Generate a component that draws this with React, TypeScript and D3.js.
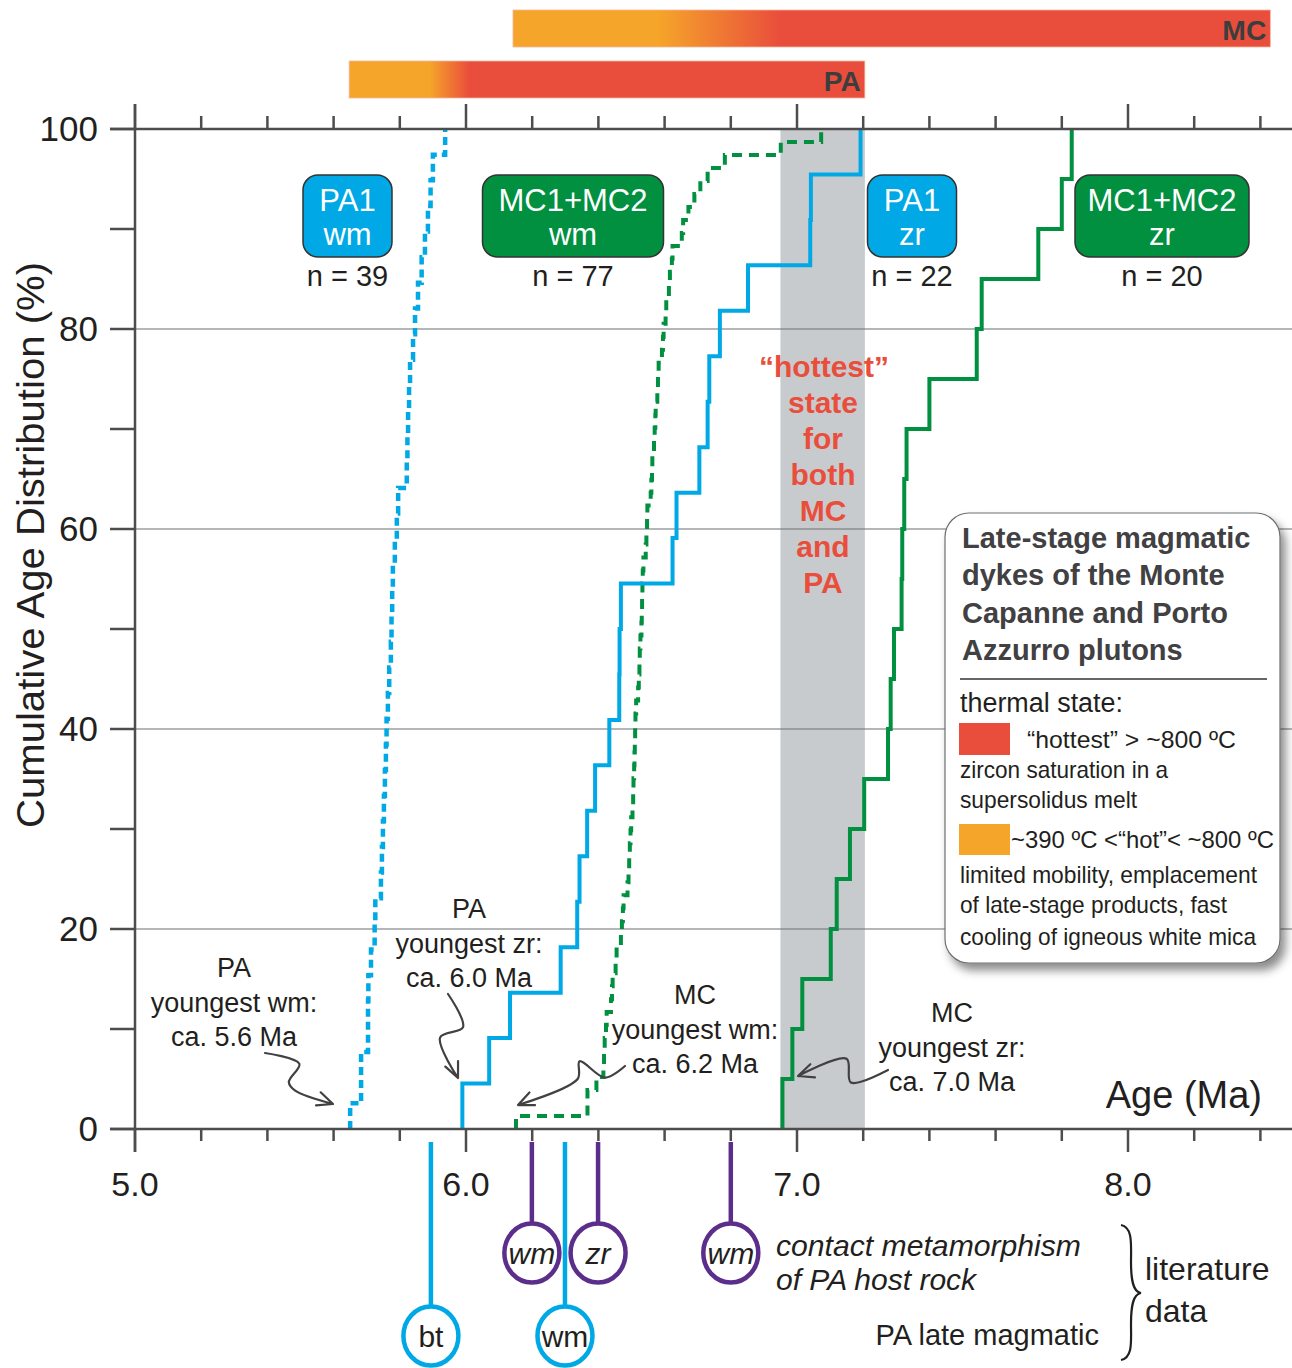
import React from 'react';
import * as d3 from 'd3';

const BLUE = '#00A9E6';
const GREEN = '#00903F';
const PURPLE = '#5C2E8C';
const RED = '#E94E3C';
const ORANGE = '#F5A52A';
const INK = '#231F20';
const AXIS = '#4D4D4F';
const FONT = '"Liberation Sans", Arial, Helvetica, sans-serif';

// PA1 white mica ages (Ma), sorted, n = 39
const paWmAges = [5.650, 5.683, 5.683, 5.704, 5.704, 5.705, 5.713, 5.724, 5.726, 5.743, 5.746, 5.749, 5.752,
  5.755, 5.758, 5.760, 5.764, 5.768, 5.773, 5.775, 5.777, 5.779, 5.785, 5.791, 5.795, 5.821, 5.823, 5.825,
  5.828, 5.831, 5.840, 5.846, 5.855, 5.866, 5.876, 5.885, 5.893, 5.900, 5.937];

// MC1+MC2 white mica ages (Ma), sorted, n = 77
const mcWmAges = [6.151, 6.367, 6.367, 6.394, 6.415, 6.417, 6.419, 6.423, 6.425, 6.438, 6.441, 6.443, 6.452,
  6.455, 6.468, 6.471, 6.474, 6.476, 6.488, 6.491, 6.493, 6.495, 6.497, 6.499, 6.503, 6.505, 6.506, 6.508,
  6.509, 6.510, 6.511, 6.512, 6.514, 6.520, 6.522, 6.524, 6.525, 6.527, 6.530, 6.531, 6.532, 6.533, 6.534,
  6.536, 6.543, 6.545, 6.547, 6.548, 6.558, 6.560, 6.562, 6.563, 6.568, 6.570, 6.572, 6.573, 6.578, 6.580,
  6.582, 6.592, 6.595, 6.597, 6.603, 6.605, 6.613, 6.616, 6.622, 6.624, 6.652, 6.656, 6.672, 6.690, 6.708,
  6.730, 6.782, 6.951, 7.073];

// PA1 zircon ages (Ma), sorted, n = 22
const paZrAges = [5.989, 6.070, 6.133, 6.286, 6.336, 6.343, 6.366, 6.390, 6.433, 6.463, 6.464, 6.468, 6.624,
  6.636, 6.705, 6.730, 6.735, 6.767, 6.852, 7.040, 7.042, 7.192];

// MC1+MC2 zircon ages (Ma), sorted, n = 20
const mcZrAges = [6.956, 6.986, 7.016, 7.102, 7.120, 7.160, 7.203, 7.275, 7.283, 7.293, 7.316, 7.318, 7.324,
  7.331, 7.400, 7.543, 7.558, 7.729, 7.800, 7.830];

// thermal state bars above the plot (Ma)
const barNames = ['MC', 'PA'];
const barStart = [6.142, 5.647];
const barFadeStart = [6.58, 5.89];
const barHotStart = [6.95, 6.01];
const barEnd = [8.43, 7.205];

// "hottest" window shared by MC and PA (Ma)
const hottest = [6.95, 7.205];

// literature ages below the axis (Ma)
const litLabels = ['wm', 'zr', 'wm', 'bt', 'wm'];
const litAges = [6.199, 6.399, 6.8, 5.894, 6.299];
const litKind = ['contact', 'contact', 'contact', 'magmatic', 'magmatic'];

const xTicks = d3.range(0, 18).map(i => 5 + i * 0.2);
const xLabels = [5, 6, 7, 8];
const yTicks = d3.range(0, 110, 10);
const yLabels = [0, 20, 40, 60, 80, 100];

const x = d3.scaleLinear().domain([5, 8]).range([135, 1128]);
const y = d3.scaleLinear().domain([0, 100]).range([1129, 129]);
const RIGHT = 1292;

type Pt = [number, number];
const ecdf = (ages: number[]): Pt[] => {
  const n = ages.length;
  const pts: Pt[] = [[ages[0], 0]];
  ages.forEach((a, i) => pts.push([a, ((i + 1) / n) * 100]));
  return pts;
};
const stepLine = d3.line<Pt>().x(d => x(d[0])).y(d => y(d[1])).curve(d3.curveStepAfter);

const series = [
  { ages: paWmAges, color: BLUE, dash: '8 5', w: 4.5 },
  { ages: mcWmAges, color: GREEN, dash: '10 7', w: 4 },
  { ages: paZrAges, color: BLUE, dash: null, w: 4 },
  { ages: mcZrAges, color: GREEN, dash: null, w: 4 },
];

// label boxes: centre x, width, colour
const boxes = [
  { l1: 'PA1', l2: 'wm', n: paWmAges.length, cx: 347.5, w: 89, color: BLUE },
  { l1: 'MC1+MC2', l2: 'wm', n: mcWmAges.length, cx: 573, w: 181, color: GREEN },
  { l1: 'PA1', l2: 'zr', n: paZrAges.length, cx: 912, w: 89, color: BLUE },
  { l1: 'MC1+MC2', l2: 'zr', n: mcZrAges.length, cx: 1162, w: 174, color: GREEN },
];

const hotWords = ['\u201chottest\u201d', 'state', 'for', 'both', 'MC', 'and', 'PA'];

// squiggly annotation arrow: waypoints given as [fraction along, px to the side]
const smooth = d3.line<Pt>().curve(d3.curveCatmullRom.alpha(0.5));
function squiggle(s: Pt, e: Pt, way: Pt[]) {
  const dx = e[0] - s[0], dy = e[1] - s[1];
  const L = Math.hypot(dx, dy);
  const ux = dx / L, uy = dy / L;
  const nx = -uy, ny = ux;
  const pts: Pt[] = [s, ...way.map(([f, p]) => [s[0] + dx * f + nx * p, s[1] + dy * f + ny * p] as Pt), e];
  const last = pts[pts.length - 2];
  const ang = Math.atan2(last[1] - e[1], last[0] - e[0]);
  const hl = 17;
  const h1: Pt = [e[0] + hl * Math.cos(ang + 0.42), e[1] + hl * Math.sin(ang + 0.42)];
  const h2: Pt = [e[0] + hl * Math.cos(ang - 0.42), e[1] + hl * Math.sin(ang - 0.42)];
  return `${smooth(pts)}M${h1}L${e}L${h2}`;
}

const notes = [
  { lines: ['PA', 'youngest wm:', 'ca. 5.6 Ma'], cx: 234, y0: 977, from: [265, 1053] as Pt, to: [333, 1104] as Pt,
    way: [[0.4, -12], [0.43, 9], [0.55, 12]] as Pt[] },
  { lines: ['PA', 'youngest zr:', 'ca. 6.0 Ma'], cx: 469, y0: 918, from: [448, 994] as Pt, to: [458, 1078] as Pt,
    way: [[0.41, -11], [0.5, 13]] as Pt[] },
  { lines: ['MC', 'youngest wm:', 'ca. 6.2 Ma'], cx: 695, y0: 1004, from: [625, 1066] as Pt, to: [518, 1105] as Pt,
    way: [[0.2, -4], [0.36, 20], [0.43, 4]] as Pt[] },
  { lines: ['MC', 'youngest zr:', 'ca. 7.0 Ma'], cx: 952, y0: 1022, from: [888, 1070] as Pt, to: [798, 1076] as Pt,
    way: [[0.42, -10], [0.45, 14]] as Pt[] },
];

const legendLines = [
  { t: 'thermal state:', x: 960, y: 712, fs: 27, tl: 163 },
  { t: '\u201chottest\u201d > ~800 \u00baC', x: 1027, y: 748, fs: 24, tl: 209 },
  { t: 'zircon saturation in a', x: 960, y: 778, fs: 24, tl: 208 },
  { t: 'supersolidus melt', x: 960, y: 808, fs: 24, tl: 177 },
  { t: '~390 \u00baC <\u201chot\u201d< ~800 \u00baC', x: 1011, y: 848, fs: 24, tl: 263 },
  { t: 'limited mobility, emplacement', x: 960, y: 883, fs: 24, tl: 297 },
  { t: 'of late-stage products, fast', x: 960, y: 913, fs: 24, tl: 267 },
  { t: 'cooling of igneous white mica', x: 960, y: 945, fs: 24, tl: 296 },
];
const legendTitle = ['Late-stage magmatic', 'dykes of the Monte', 'Capanne and Porto', 'Azzurro plutons'];

export default function App() {
  return (
    <svg width={1292} height={1368} style={{ position: 'absolute', left: 0, top: 0, background: '#fff' }}
      fontFamily={FONT}>
      <defs>
        {barNames.map((name, i) => (
          <linearGradient key={name} id={`grad-${name}`} gradientUnits="userSpaceOnUse"
            x1={x(barStart[i])} x2={x(barEnd[i])} y1={0} y2={0}>
            <stop offset={0} stopColor={ORANGE} />
            <stop offset={(x(barFadeStart[i]) - x(barStart[i])) / (x(barEnd[i]) - x(barStart[i]))} stopColor={ORANGE} />
            <stop offset={(x(barHotStart[i]) - x(barStart[i])) / (x(barEnd[i]) - x(barStart[i]))} stopColor={RED} />
            <stop offset={1} stopColor={RED} />
          </linearGradient>
        ))}
        <filter id="shadow" x="-10%" y="-10%" width="130%" height="130%">
          <feDropShadow dx={5} dy={7} stdDeviation={5} floodColor="#000" floodOpacity={0.45} />
        </filter>
      </defs>

      {/* thermal bars */}
      {barNames.map((name, i) => {
        const top = i === 0 ? 10 : 61;
        return (
          <g key={name}>
            <rect x={x(barStart[i])} y={top} width={x(barEnd[i]) - x(barStart[i])} height={37}
              fill={`url(#grad-${name})`} stroke="#f3b7a0" strokeWidth={0.8} />
            <text x={x(barEnd[i]) - 4} y={top + 30} textAnchor="end" fontSize={28} fontWeight="bold"
              fill="#3d3d3d" textLength={i === 0 ? 44 : 37} lengthAdjust="spacingAndGlyphs">{name}</text>
          </g>
        );
      })}

      {/* hottest band */}
      <rect x={x(hottest[0])} y={y(100)} width={x(hottest[1]) - x(hottest[0])} height={y(0) - y(100)} fill="#C8CBCD" />

      {/* gridlines */}
      {[20, 40, 60, 80].map(v => (
        <line key={v} x1={x(5)} x2={RIGHT} y1={y(v)} y2={y(v)} stroke="#6D6E71" strokeWidth={1.1} />
      ))}

      {/* hottest text */}
      {hotWords.map((w, i) => (
        <text key={w + i} x={i === 0 ? 824 : 823} y={377 + i * 36} textAnchor="middle" fontSize={30}
          fontWeight="bold" fill={RED}>{w}</text>
      ))}

      {/* cumulative curves */}
      {series.map((s, i) => (
        <path key={i} d={stepLine(ecdf(s.ages)) || ''} fill="none" stroke={s.color} strokeWidth={s.w}
          strokeDasharray={s.dash || undefined} />
      ))}

      {/* label boxes */}
      {boxes.map((b, i) => (
        <g key={i}>
          <rect x={b.cx - b.w / 2} y={175} width={b.w} height={82} rx={15} fill={b.color} stroke="#333" strokeWidth={1.5} />
          <text x={b.cx} y={211} textAnchor="middle" fontSize={31} fill="#fff">{b.l1}</text>
          <text x={b.cx} y={245} textAnchor="middle" fontSize={31} fill="#fff">{b.l2}</text>
          <text x={b.cx} y={286} textAnchor="middle" fontSize={29} fill={INK}>{`n = ${b.n}`}</text>
        </g>
      ))}

      {/* annotations */}
      {notes.map((n, i) => (
        <g key={i}>
          {n.lines.map((l, j) => (
            <text key={j} x={n.cx} y={n.y0 + j * 34.5} textAnchor="middle" fontSize={27} fill={INK}>{l}</text>
          ))}
          <path d={squiggle(n.from, n.to, n.way)} fill="none" stroke="#414042" strokeWidth={2.2}
            strokeLinejoin="round" strokeLinecap="round" />
        </g>
      ))}

      {/* legend */}
      <g>
        <rect x={945} y={513} width={335} height={450} rx={24} fill="#fff" stroke="#6d6e71" strokeWidth={1.2}
          filter="url(#shadow)" />
        {legendTitle.map((t, i) => (
          <text key={t} x={962} y={548 + i * 37.3} fontSize={29} fontWeight="bold" fill="#414042">{t}</text>
        ))}
        <line x1={960} x2={1267} y1={679} y2={679} stroke="#333" strokeWidth={1.5} />
        <rect x={959} y={723} width={51} height={32} fill={RED} />
        <rect x={959} y={824} width={51} height={31} fill={ORANGE} />
        {legendLines.map(l => (
          <text key={l.t} x={l.x} y={l.y} fontSize={l.fs} fill={INK} textLength={l.tl}
            lengthAdjust="spacingAndGlyphs">{l.t}</text>
        ))}
      </g>

      {/* axes */}
      <g stroke={AXIS} strokeWidth={2.5}>
        <line x1={x(5)} x2={x(5)} y1={104} y2={1152} />
        <line x1={110} x2={RIGHT} y1={y(0)} y2={y(0)} />
        <line x1={110} x2={RIGHT} y1={y(100)} y2={y(100)} />
        {xTicks.map(t => {
          const major = Math.abs(t - Math.round(t)) < 1e-6;
          return (
            <g key={t}>
              <line x1={x(t)} x2={x(t)} y1={y(100)} y2={major ? 104 : 116} />
              <line x1={x(t)} x2={x(t)} y1={y(0)} y2={major ? 1152 : 1141} />
            </g>
          );
        })}
        {yTicks.map(t => (
          <line key={t} x1={110} x2={x(5)} y1={y(t)} y2={y(t)} />
        ))}
      </g>
      {yLabels.map(t => (
        <text key={t} x={98} y={y(t) + 12} textAnchor="end" fontSize={35} fill={INK}>{t}</text>
      ))}
      {xLabels.map(t => (
        <text key={t} x={x(t)} y={1196} textAnchor="middle" fontSize={34} fill={INK}>{t.toFixed(1)}</text>
      ))}
      <text x={1262} y={1108} textAnchor="end" fontSize={38} fill={INK}>Age (Ma)</text>
      <text transform="translate(44,545) rotate(-90)" textAnchor="middle" fontSize={38} fill={INK}
        textLength={566} lengthAdjust="spacingAndGlyphs">Cumulative Age Distribution (%)</text>

      {/* literature data */}
      {litAges.map((a, i) => {
        const contact = litKind[i] === 'contact';
        const cy = contact ? 1253 : 1336;
        const col = contact ? PURPLE : BLUE;
        return (
          <g key={i}>
            <line x1={x(a)} x2={x(a)} y1={1142} y2={cy - 30} stroke={col} strokeWidth={4.5} />
            <ellipse cx={x(a)} cy={cy} rx={27.5} ry={29.5} fill="none" stroke={col} strokeWidth={4.5} />
            <text x={x(a)} y={cy + 11} textAnchor="middle" fontSize={30} fill={INK}
              fontStyle={contact ? 'italic' : 'normal'}>{litLabels[i]}</text>
          </g>
        );
      })}
      <text x={776} y={1256} fontSize={30} fontStyle="italic" fill={INK} textLength={305}
        lengthAdjust="spacingAndGlyphs">contact metamorphism</text>
      <text x={776} y={1290} fontSize={30} fontStyle="italic" fill={INK}>of PA host rock</text>
      <text x={1099} y={1345} textAnchor="end" fontSize={29} fill={INK}>PA late magmatic</text>
      <path d="M1121,1225 C1133,1227 1131,1245 1131,1262 C1131,1280 1133,1292 1141,1293 C1133,1294 1131,1306 1131,1324 C1131,1341 1133,1358 1121,1360"
        fill="none" stroke={INK} strokeWidth={2.2} />
      <text x={1145} y={1280} fontSize={32} fill={INK}>literature</text>
      <text x={1145} y={1322} fontSize={32} fill={INK}>data</text>
    </svg>
  );
}
